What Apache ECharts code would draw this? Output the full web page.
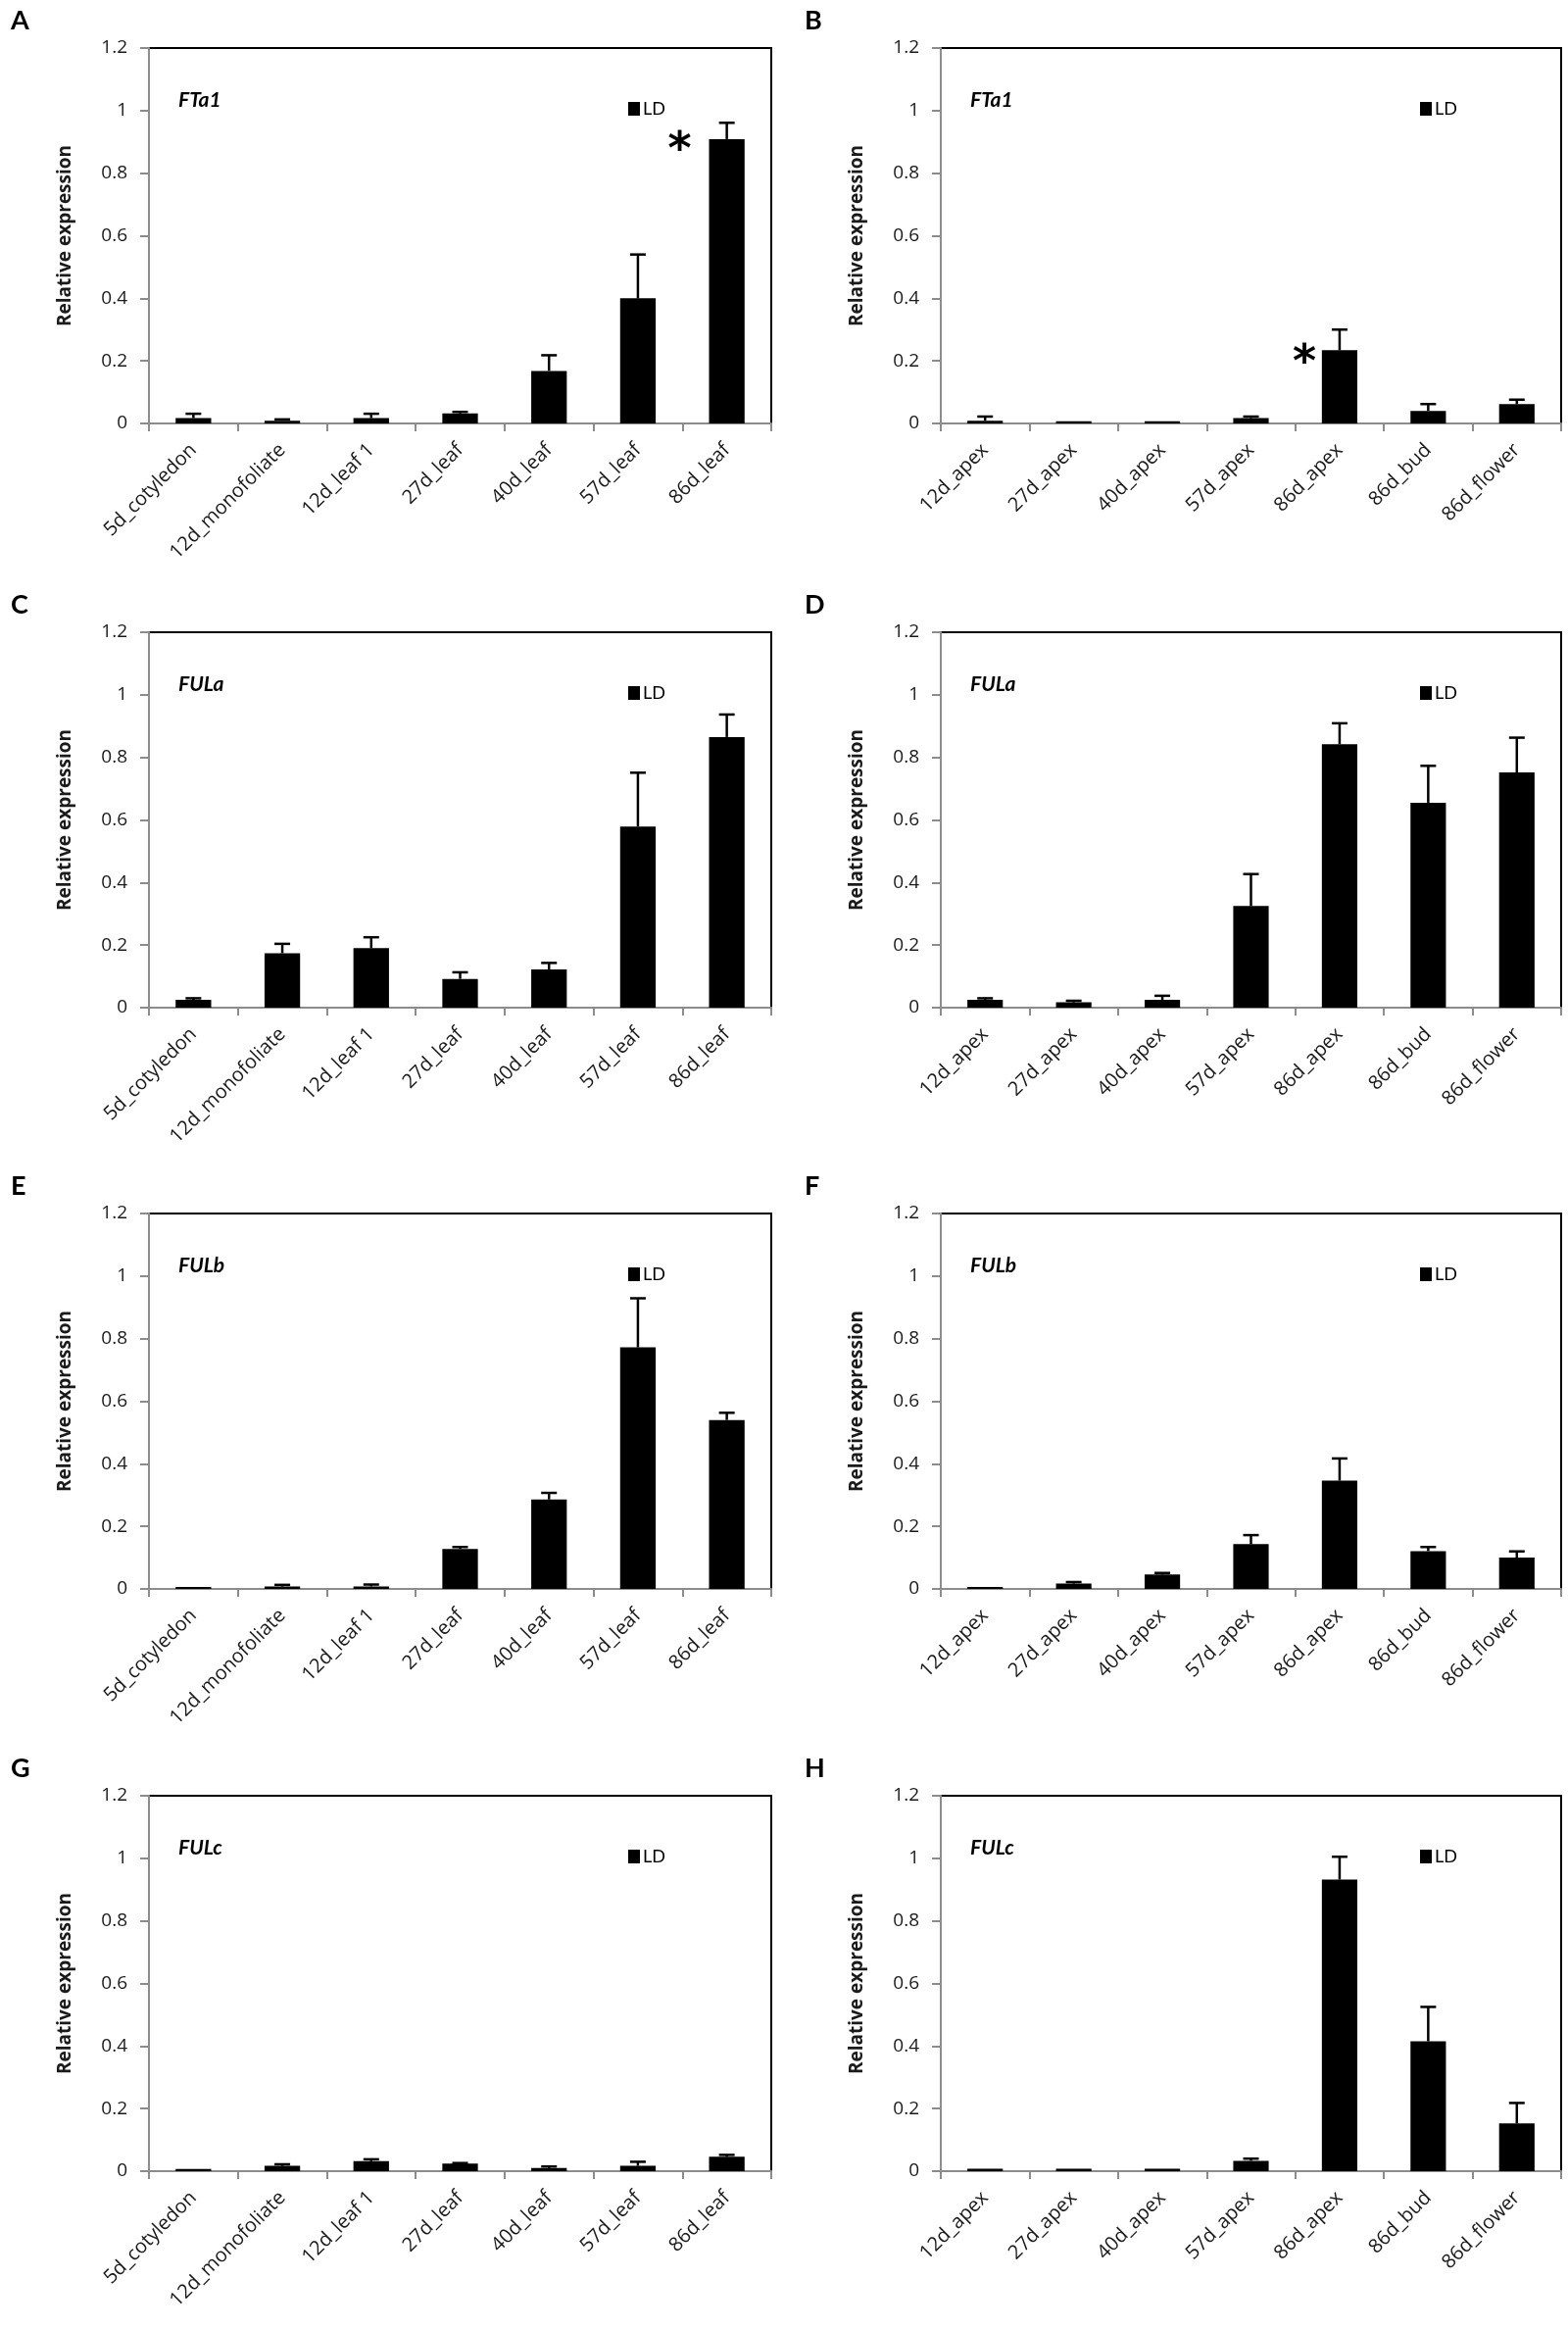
<!DOCTYPE html>
<html>
<head>
<meta charset="utf-8">
<script src="https://cdn.jsdelivr.net/npm/echarts@6/dist/echarts.min.js"></script>
<style>
  html, body { margin: 0; padding: 0; background: #fff; }
  #main { width: 1600px; height: 2375px; }
</style>
</head>
<body>
<div id="main"></div>
<script>
// categories
var leafCats = ['5d_cotyledon', '12d_monofoliate', '12d_leaf 1', '27d_leaf', '40d_leaf', '57d_leaf', '86d_leaf'];
var apexCats = ['12d_apex', '27d_apex', '40d_apex', '57d_apex', '86d_apex', '86d_bud', '86d_flower'];

// means and upper error (SE)
var ftLeafMean = [0.017, 0.009, 0.017, 0.032, 0.168, 0.400, 0.909];
var ftLeafErr  = [0.014, 0.004, 0.014, 0.005, 0.050, 0.140, 0.052];
var ftApexMean = [0.009, 0.007, 0.007, 0.017, 0.234, 0.040, 0.062];
var ftApexErr  = [0.013, 0.000, 0.000, 0.005, 0.066, 0.022, 0.014];

var fulaLeafMean = [0.025, 0.174, 0.190, 0.092, 0.122, 0.579, 0.865];
var fulaLeafErr  = [0.005, 0.030, 0.035, 0.021, 0.021, 0.172, 0.072];
var fulaApexMean = [0.025, 0.017, 0.025, 0.325, 0.842, 0.655, 0.752];
var fulaApexErr  = [0.005, 0.005, 0.013, 0.102, 0.067, 0.118, 0.111];

var fulbLeafMean = [0.006, 0.008, 0.008, 0.128, 0.286, 0.772, 0.540];
var fulbLeafErr  = [0.000, 0.005, 0.006, 0.006, 0.021, 0.157, 0.023];
var fulbApexMean = [0.006, 0.017, 0.046, 0.143, 0.346, 0.121, 0.100];
var fulbApexErr  = [0.000, 0.005, 0.005, 0.029, 0.071, 0.013, 0.020];

var fulcLeafMean = [0.007, 0.017, 0.032, 0.024, 0.010, 0.017, 0.046];
var fulcLeafErr  = [0.000, 0.005, 0.006, 0.002, 0.005, 0.013, 0.006];
var fulcApexMean = [0.008, 0.008, 0.008, 0.033, 0.932, 0.415, 0.153];
var fulcApexErr  = [0.000, 0.000, 0.000, 0.007, 0.073, 0.110, 0.065];

// y axis ticks
var yMin = 0, yMax = 1.2, yStep = 0.2;

// significance stars: panel index, category index, value
var stars = [
    {panel: 0, cat: 6, value: 0.90},
    {panel: 1, cat: 4, value: 0.22}
];
var starShift = [-48, -36];

var panels = [
    {letter: 'A', gene: 'FTa1', cats: leafCats, mean: ftLeafMean, err: ftLeafErr},
    {letter: 'B', gene: 'FTa1', cats: apexCats, mean: ftApexMean, err: ftApexErr},
    {letter: 'C', gene: 'FULa', cats: leafCats, mean: fulaLeafMean, err: fulaLeafErr},
    {letter: 'D', gene: 'FULa', cats: apexCats, mean: fulaApexMean, err: fulaApexErr},
    {letter: 'E', gene: 'FULb', cats: leafCats, mean: fulbLeafMean, err: fulbLeafErr},
    {letter: 'F', gene: 'FULb', cats: apexCats, mean: fulbApexMean, err: fulbApexErr},
    {letter: 'G', gene: 'FULc', cats: leafCats, mean: fulcLeafMean, err: fulcLeafErr},
    {letter: 'H', gene: 'FULc', cats: apexCats, mean: fulcApexMean, err: fulcApexErr}
];

var FONT = '"Open Sans"';
var colLeft = [152, 960];
var colWidth = [635, 633];
var rowTop = [49, 645, 1238, 1832];
var plotH = 383;

var myChart = echarts.init(document.getElementById('main'), null, {renderer: 'canvas'});

var grid = [], xAxis = [], yAxis = [], series = [], title = [], legend = [];

panels.forEach(function (p, i) {
    var col = i % 2, row = Math.floor(i / 2);
    var left = colLeft[col], top = rowTop[row];

    grid.push({
        left: left, top: top, width: colWidth[col], height: plotH,
        show: true, borderColor: '#000', borderWidth: 2, backgroundColor: '#fff'
    });

    xAxis.push({
        type: 'category', gridIndex: i, data: p.cats,
        axisLine: {lineStyle: {color: '#8c8c8c', width: 2}},
        axisTick: {show: true, length: 8, lineStyle: {color: '#8c8c8c', width: 2}},
        axisLabel: {
            interval: 0, rotate: 45, margin: 24,
            color: '#1a1a1a', fontFamily: FONT, fontSize: 20
        }
    });

    yAxis.push({
        type: 'value', gridIndex: i, min: yMin, max: yMax, interval: yStep,
        name: 'Relative expression', nameLocation: 'middle', nameGap: 76,
        nameTextStyle: {fontFamily: FONT, fontSize: 19, fontWeight: 'bold', color: '#1a1a1a'},
        axisLine: {show: true, lineStyle: {color: '#8c8c8c', width: 2}},
        axisTick: {show: true, length: 9, lineStyle: {color: '#8c8c8c', width: 2}},
        splitLine: {show: false},
        axisLabel: {
            margin: 22, color: '#1a1a1a', fontFamily: FONT, fontSize: 19,
            formatter: function (v) { return String(Math.round(v * 10) / 10); }
        }
    });

    series.push({
        name: 'LD', type: 'bar', xAxisIndex: i, yAxisIndex: i,
        data: p.mean, barWidth: '40%',
        itemStyle: {color: '#000'}, silent: true, z: 2
    });

    var errData = [];
    p.mean.forEach(function (m, k) {
        if (p.err[k] > 0) errData.push([k, m, m + p.err[k]]);
    });
    series.push({
        name: 'SE', type: 'custom', xAxisIndex: i, yAxisIndex: i,
        data: errData, z: 3, silent: true,
        renderItem: function (params, api) {
            var lo = api.coord([api.value(0), api.value(1)]);
            var hi = api.coord([api.value(0), api.value(2)]);
            var st = {stroke: '#000', lineWidth: 2.5};
            return {
                type: 'group',
                children: [
                    {type: 'line', shape: {x1: lo[0], y1: lo[1], x2: hi[0], y2: hi[1]}, style: st},
                    {type: 'line', shape: {x1: hi[0] - 8, y1: hi[1], x2: hi[0] + 8, y2: hi[1]}, style: st}
                ]
            };
        }
    });

    title.push({
        text: p.letter, left: col === 0 ? 6 : 816, top: top - 46,
        textStyle: {fontFamily: 'Lato', fontSize: 27, fontWeight: 'bold', color: '#000'}
    });
    title.push({
        text: p.gene, left: left + 25, top: top + 38,
        textStyle: {fontFamily: 'Lato', fontSize: 21, fontWeight: 'bold', fontStyle: 'italic', color: '#000'}
    });

    legend.push({
        data: [{name: 'LD', icon: 'rect'}],
        left: left + 484, top: top + 48,
        itemWidth: 12, itemHeight: 14, itemGap: 4,
        selectedMode: false,
        textStyle: {fontFamily: 'Lato', fontSize: 18, color: '#000', padding: [0, 0, 0, -2]}
    });
});

// stars drawn at their data position, shifted left of the bar
stars.forEach(function (s, j) {
    series.push({
        name: 'sig', type: 'custom',
        xAxisIndex: s.panel, yAxisIndex: s.panel,
        data: [[s.cat, s.value]], z: 4, silent: true,
        renderItem: function (params, api) {
            var pt = api.coord([api.value(0), api.value(1)]);
            return {
                type: 'text',
                style: {
                    text: '*', x: pt[0] + starShift[j], y: pt[1] + 10,
                    align: 'center', verticalAlign: 'middle',
                    font: 'bold 46px "DejaVu Sans"', fill: '#000'
                }
            };
        }
    });
});

myChart.setOption({
    animation: false,
    textStyle: {fontFamily: FONT},
    title: title,
    legend: legend,
    grid: grid,
    xAxis: xAxis,
    yAxis: yAxis,
    series: series
});
</script>
</body>
</html>
